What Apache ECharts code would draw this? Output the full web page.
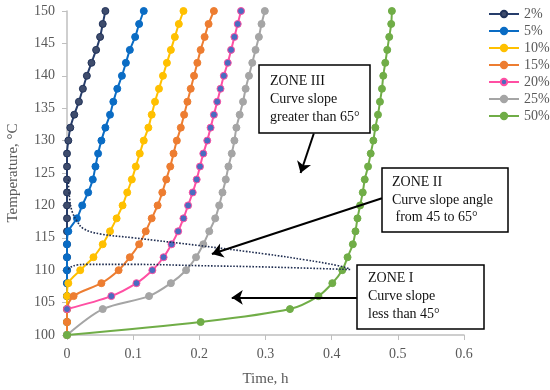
<!DOCTYPE html>
<html><head><meta charset="utf-8">
<script src="https://cdn.jsdelivr.net/npm/echarts@6/dist/echarts.min.js"></script>
<style>html,body{margin:0;padding:0;background:#fff}#c{width:550px;height:390px}</style>
</head><body><div id="c"></div>
<script>
// Shared temperature levels (°C)
const temps = [100,102,104,106,108,110,112,114,116,118,120,122,124,126,128,130,132,134,136,138,140,142,144,146,148,150];
// Time (h) at each temperature level, per series (null = no point)
const t2  = [0,0,0,0,0,0,0,0,0,0,0,0,0,0,0,0.002,0.005,0.011,0.018,0.024,0.030,0.037,0.044,0.050,0.054,0.058];
const t5  = [0,0,0,0,0,0,0,0,0.002,0.015,0.023,0.032,0.039,0.043,0.047,0.052,0.058,0.065,0.070,0.076,0.083,0.089,0.095,0.103,0.109,0.116];
const t10 = [0,0,0,0,0.002,0.020,0.040,0.054,0.065,0.075,0.084,0.091,0.098,0.104,0.110,0.116,0.123,0.128,0.133,0.139,0.145,0.151,0.157,0.163,0.169,0.176];
const t15 = [0,0,0,0.010,0.052,0.078,0.095,0.109,0.119,0.128,0.137,0.144,0.150,0.156,0.161,0.166,0.172,0.177,0.182,0.187,0.192,0.197,0.202,0.208,0.214,0.222];
const t20 = [null,null,0,0.067,0.105,0.129,0.146,0.158,0.168,0.176,0.183,0.190,0.196,0.201,0.206,0.212,0.217,0.222,0.227,0.232,0.237,0.243,0.248,0.253,0.258,0.263];
const t25 = [0,null,0.054,0.124,0.157,0.180,0.195,0.206,0.215,0.224,0.230,0.235,0.240,0.244,0.249,0.253,0.256,0.261,0.266,0.270,0.275,0.280,0.285,0.290,0.294,0.299];
const t50 = [0,0.202,0.337,0.380,0.401,0.416,0.424,0.432,0.436,0.439,0.443,0.447,0.450,0.455,0.459,0.463,0.466,0.470,0.473,0.476,0.478,0.481,0.484,0.487,0.490,0.491];
const seriesNames = ['2%','5%','10%','15%','20%','25%','50%'];
// Zone boundary (dotted) curves
const upperDotT = [0.002,0.004,0.008,0.015,0.025,0.05,0.1,0.2,0.3,0.36,0.41,0.428];
const upperDotY = [124,121,119,117.6,116.4,115.6,115.0,113.8,112.5,111.6,110.7,110.2];
const lowerDotT = [0.002,0.006,0.015,0.03,0.1,0.2,0.3,0.43];
const lowerDotY = [110.1,110.5,110.8,110.9,110.9,110.7,110.5,110.1];
// Annotation arrows [from, to] in data coords
const arrowIII = [[0.373,131.1],[0.353,125.0]];
const arrowII  = [[0.476,121.1],[0.219,112.5]];
const arrowI   = [[0.438,105.8],[0.249,105.8]];
// Tick settings
const xMin = 0, xMax = 0.6, xStep = 0.1;
const yMin = 100, yMax = 150, yStep = 5;

const FONT = "'Liberation Serif', 'DejaVu Serif', serif";
function pairs(ts, ys){ const out=[]; ts.forEach((t,i)=>{ if(t!==null) out.push([t, ys[i]]); }); return out; }

const styles = [
  {line:'#263D6B', fill:'#3E4C6C', border:'#22335A'},
  {line:'#0A6CC4', fill:'#0A6CC4', border:'#0A6CC4'},
  {line:'#FFC000', fill:'#FFC000', border:'#FFC000'},
  {line:'#ED7D31', fill:'#ED7D31', border:'#ED7D31'},
  {line:'#FF4FA3', fill:'#4A6CC0', border:'#FF4FA3'},
  {line:'#A5A5A5', fill:'#A5A5A5', border:'#A5A5A5'},
  {line:'#70AD47', fill:'#70AD47', border:'#70AD47'}
];
const allT = [t2,t5,t10,t15,t20,t25,t50];
const series = allT.map((ts,i)=>({
  name: seriesNames[i], type:'line', smooth:0.3,
  data: pairs(ts, temps),
  symbol:'circle', symbolSize:7,
  lineStyle:{color:styles[i].line, width:2},
  itemStyle:{color:styles[i].fill, borderColor:styles[i].border, borderWidth:1},
  z: 2+i
}));
series.push({type:'line', smooth:0.4, data:pairs(upperDotT, upperDotY), symbol:'none', silent:true,
  lineStyle:{color:'#1F2D50', width:1.6, type:'dotted'}, z:10});
series.push({type:'line', smooth:0.4, data:pairs(lowerDotT, lowerDotY), symbol:'none', silent:true,
  lineStyle:{color:'#1F2D50', width:1.6, type:'dotted'}, z:10});
series.push({type:'lines', coordinateSystem:'cartesian2d', silent:true, z:20,
  symbol:['none','arrow'], symbolSize:11,
  lineStyle:{color:'#000', width:2, opacity:1},
  data:[{coords:arrowIII},{coords:arrowII},{coords:arrowI}]});

const chart = echarts.init(document.getElementById('c'), null, {renderer:'canvas'});
const boxText = {fontFamily:FONT, fontSize:14, fill:'#111'};
chart.setOption({
  animation:false,
  backgroundColor:'#fff',
  grid:{left:67, right:86, top:11, bottom:55, containLabel:false, outerBoundsMode:'none'},
  legend:{
    data:seriesNames, orient:'vertical', left:488, top:7, padding:0,
    itemWidth:30, itemHeight:8, itemGap:3,
    textStyle:{fontFamily:FONT, fontSize:14, color:'#595959'}
  },
  xAxis:{
    type:'value', min:xMin, max:xMax, interval:xStep,
    name:'Time, h', nameLocation:'middle', nameGap:37,
    nameTextStyle:{fontFamily:FONT, fontSize:15, color:'#595959'},
    axisLine:{show:true, lineStyle:{color:'#BFBFBF', width:1.5}},
    axisTick:{show:true, length:5, lineStyle:{color:'#BFBFBF'}},
    splitLine:{show:false},
    axisLabel:{fontFamily:FONT, fontSize:14, color:'#595959', margin:12,
      formatter:v=>String(Math.round(v*10)/10)}
  },
  yAxis:{
    type:'value', min:yMin, max:yMax, interval:yStep,
    name:'Temperature, °C', nameLocation:'middle', nameGap:46,
    nameTextStyle:{fontFamily:FONT, fontSize:15, color:'#595959'},
    axisLine:{show:true, lineStyle:{color:'#BFBFBF', width:1.5}},
    axisTick:{show:true, length:5, lineStyle:{color:'#BFBFBF'}},
    splitLine:{show:false},
    axisLabel:{fontFamily:FONT, fontSize:14, color:'#595959', margin:12}
  },
  graphic:[
    {type:'rect', shape:{x:259,y:65,width:111,height:68}, style:{fill:'#fff', stroke:'#000', lineWidth:1.5}, z:30},
    {type:'text', x:270, y:72, style:Object.assign({text:'ZONE III\nCurve slope\ngreater than 65°', lineHeight:18}, boxText), z:31},
    {type:'rect', shape:{x:382,y:168,width:126,height:64}, style:{fill:'#fff', stroke:'#000', lineWidth:1.5}, z:30},
    {type:'text', x:392, y:174, style:Object.assign({text:'ZONE II\nCurve slope angle\n from 45 to 65°', lineHeight:17.3}, boxText), z:31},
    {type:'rect', shape:{x:357,y:265,width:127,height:64}, style:{fill:'#fff', stroke:'#000', lineWidth:1.5}, z:30},
    {type:'text', x:368, y:270, style:Object.assign({text:'ZONE I\nCurve slope\nless than 45°', lineHeight:17.6}, boxText), z:31}
  ],
  series:series
});
</script></body></html>
